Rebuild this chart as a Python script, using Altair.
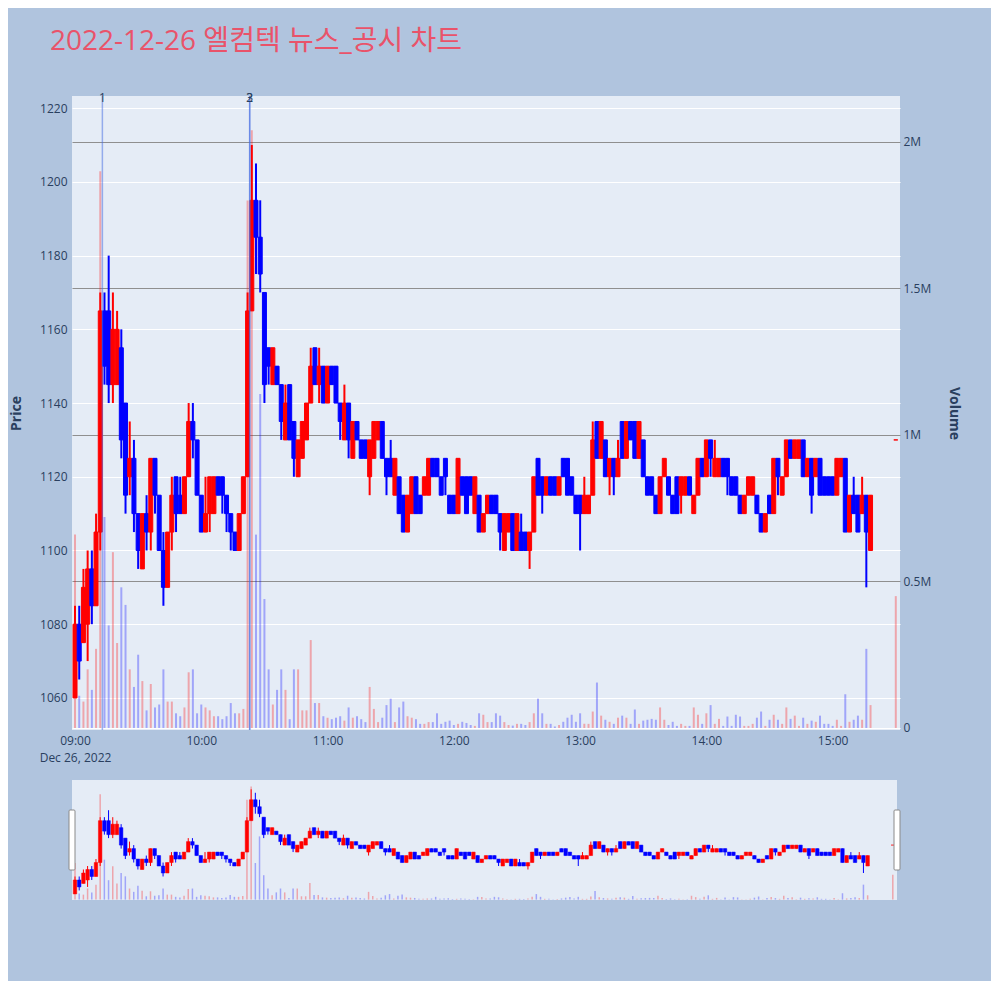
import altair as alt
import pandas as pd

TITLE = "2022-12-26 엘컴텍 뉴스_공시 차트"

# 2-minute candles from 09:00 to 15:18, plus the 15:30 closing auction
opens = [1060,1080,1075,1080,1095,1085,1105,1165,1165,1145,
         1145,1155,1140,1120,1125,1110,1095,1110,1105,1125,
         1115,1100,1090,1105,1120,1115,1110,1120,1135,1130,
         1115,1105,1110,1110,1120,1120,1115,1110,1105,1100,
         1110,1120,1165,1195,1185,1170,1155,1145,1150,1145,
         1130,1145,1135,1120,1125,1130,1140,1155,1145,1150,
         1140,1150,1150,1140,1130,1140,1125,1135,1130,1130,
         1120,1125,1130,1135,1125,1125,1115,1120,1115,1105,
         1110,1120,1115,1115,1115,1125,1125,1120,1125,1115,
         1115,1110,1120,1120,1120,1110,1115,1105,1110,1115,
         1115,1110,1100,1105,1110,1100,1105,1105,1100,1105,
         1125,1120,1115,1120,1120,1115,1125,1125,1120,1115,
         1115,1110,1110,1115,1135,1125,1130,1120,1125,1120,
         1135,1125,1135,1135,1125,1130,1120,1120,1115,1110,
         1120,1120,1115,1120,1115,1115,1120,1110,1115,1125,
         1120,1130,1120,1120,1125,1125,1120,1120,1115,1110,
         1115,1115,1115,1110,1105,1115,1110,1125,1115,1120,
         1130,1125,1125,1130,1120,1125,1120,1125,1120,1120,
         1120,1115,1120,1125,1105,1115,1115,1110,1115,1100,
         1130]
highs = [1085,1085,1095,1100,1100,1110,1170,1170,1180,1170,
         1165,1160,1140,1135,1130,1110,1110,1115,1125,1125,
         1115,1105,1105,1120,1120,1120,1120,1140,1140,1130,
         1115,1120,1120,1120,1120,1120,1115,1110,1105,1110,
         1120,1170,1210,1205,1195,1170,1155,1155,1150,1145,
         1145,1145,1135,1130,1135,1140,1155,1155,1155,1150,
         1150,1150,1150,1140,1145,1140,1135,1135,1130,1130,
         1130,1135,1135,1135,1125,1130,1125,1120,1115,1115,
         1120,1120,1115,1120,1125,1125,1125,1120,1125,1115,
         1115,1125,1120,1120,1120,1120,1115,1110,1115,1115,
         1115,1110,1110,1110,1110,1110,1110,1105,1105,1120,
         1125,1120,1120,1120,1120,1120,1125,1125,1120,1115,
         1115,1120,1115,1135,1135,1135,1130,1125,1125,1130,
         1135,1135,1135,1135,1135,1130,1120,1120,1115,1120,
         1125,1120,1115,1120,1120,1120,1120,1115,1125,1125,
         1130,1130,1130,1125,1125,1125,1120,1120,1115,1115,
         1120,1120,1115,1110,1110,1115,1125,1125,1120,1130,
         1130,1130,1130,1130,1125,1125,1125,1125,1120,1120,
         1120,1125,1125,1125,1115,1120,1115,1120,1115,1115,
         1130]
lows = [1060,1065,1075,1070,1080,1085,1100,1145,1140,1140,
        1145,1125,1110,1115,1105,1095,1095,1100,1100,1110,
        1100,1085,1090,1100,1105,1110,1110,1120,1125,1115,
        1105,1105,1105,1110,1115,1110,1105,1100,1100,1100,
        1110,1120,1165,1175,1170,1140,1145,1145,1145,1130,
        1130,1130,1120,1120,1125,1130,1140,1145,1140,1140,
        1140,1145,1140,1130,1130,1125,1125,1130,1125,1125,
        1115,1125,1130,1125,1115,1120,1115,1110,1105,1105,
        1110,1110,1110,1115,1115,1120,1120,1115,1115,1110,
        1110,1110,1115,1110,1115,1110,1105,1105,1110,1110,
        1110,1100,1100,1105,1100,1100,1100,1100,1095,1105,
        1115,1110,1115,1115,1115,1115,1120,1115,1115,1110,
        1100,1110,1110,1115,1125,1125,1120,1115,1115,1120,
        1125,1125,1130,1125,1125,1120,1115,1115,1110,1110,
        1120,1115,1110,1110,1110,1115,1115,1110,1115,1120,
        1120,1120,1120,1120,1120,1115,1115,1115,1110,1110,
        1115,1115,1110,1105,1105,1110,1110,1115,1115,1120,
        1125,1125,1125,1120,1120,1110,1120,1115,1115,1115,
        1115,1115,1120,1105,1105,1110,1105,1110,1090,1100,
        1130]
closes = [1080,1070,1090,1095,1085,1105,1165,1150,1145,1160,
          1160,1130,1115,1125,1110,1100,1110,1105,1125,1115,
          1100,1090,1105,1115,1110,1110,1120,1135,1130,1115,
          1105,1110,1120,1120,1115,1115,1110,1105,1100,1110,
          1120,1165,1195,1185,1175,1145,1150,1155,1145,1135,
          1140,1130,1125,1130,1135,1140,1150,1145,1150,1140,
          1150,1145,1140,1135,1140,1130,1135,1130,1125,1125,
          1130,1135,1135,1125,1120,1120,1125,1110,1105,1115,
          1120,1110,1110,1120,1125,1120,1120,1115,1120,1110,
          1110,1125,1115,1110,1115,1120,1105,1110,1115,1110,
          1110,1105,1110,1110,1100,1110,1100,1100,1105,1120,
          1115,1115,1120,1115,1115,1120,1120,1115,1115,1110,
          1110,1115,1115,1130,1125,1135,1120,1125,1120,1125,
          1125,1135,1130,1125,1135,1120,1115,1115,1110,1120,
          1125,1115,1110,1110,1120,1120,1115,1115,1125,1120,
          1130,1125,1125,1125,1120,1120,1115,1115,1110,1115,
          1120,1120,1110,1105,1110,1110,1125,1120,1120,1130,
          1125,1130,1130,1120,1125,1115,1125,1115,1115,1115,
          1115,1125,1125,1105,1115,1110,1105,1115,1105,1115,
          1130]
volumes_m = [0.66,0.11,0.09,0.20,0.13,0.27,1.90,0.72,0.35,0.60,
             0.29,0.48,0.42,0.20,0.14,0.25,0.16,0.06,0.15,0.07,
             0.08,0.20,0.09,0.09,0.05,0.04,0.07,0.19,0.20,0.05,
             0.08,0.07,0.06,0.04,0.04,0.03,0.04,0.085,0.05,0.05,
             0.065,1.80,2.04,0.66,1.14,0.44,0.20,0.08,0.13,0.20,
             0.13,0.03,0.20,0.20,0.06,0.06,0.30,0.085,0.085,0.04,
             0.035,0.03,0.035,0.04,0.025,0.07,0.035,0.04,0.03,0.02,
             0.14,0.065,0.02,0.035,0.078,0.10,0.02,0.07,0.09,0.04,
             0.035,0.03,0.014,0.014,0.02,0.02,0.05,0.014,0.021,0.025,
             0.01,0.014,0.021,0.017,0.01,0.007,0.05,0.045,0.02,0.02,
             0.05,0.042,0.02,0.01,0.008,0.014,0.014,0.01,0.02,0.05,
             0.10,0.05,0.014,0.014,0.005,0.01,0.021,0.035,0.045,0.021,
             0.05,0.014,0.014,0.056,0.155,0.042,0.028,0.021,0.014,0.035,
             0.042,0.035,0.014,0.063,0.014,0.025,0.028,0.031,0.028,0.07,
             0.028,0.01,0.021,0.007,0.014,0.007,0.007,0.07,0.045,0.014,
             0.05,0.078,0.014,0.031,0.007,0.039,0.007,0.045,0.039,0.007,
             0.007,0.014,0.035,0.056,0.007,0.028,0.045,0.028,0.014,0.07,
             0.031,0.042,0.007,0.035,0.014,0.025,0.021,0.042,0.014,0.014,
             0.007,0.028,0.007,0.115,0.021,0.028,0.042,0.028,0.27,0.078,
             0.45]

news_times = ["2022-12-26T09:13:00", "2022-12-26T10:23:00", "2022-12-26T10:23:00"]
news_labels = ["1", "2", "3"]
price_ticks = [1060, 1080, 1100, 1120, 1140, 1160, 1180, 1200, 1220]
volume_ticks_m = [0, 0.5, 1, 1.5, 2]
hour_ticks = [9, 10, 11, 12, 13, 14, 15]

times = [t.strftime("%Y-%m-%dT%H:%M:%S")
         for t in pd.date_range("2022-12-26 09:00", periods=190, freq="2min")]
times.append("2022-12-26T15:30:00")

df = pd.DataFrame({"time": times, "open": opens, "high": highs, "low": lows,
                   "close": closes, "volume": volumes_m})
df["dir"] = ["up" if c >= o else "down" for o, c in zip(opens, closes)]
news_df = pd.DataFrame({"time": news_times, "label": news_labels})
handle_df = pd.DataFrame({"time": ["2022-12-26T08:58:34", "2022-12-26T15:32:00"]})

FONT = "Open Sans"
TXT = "#2a3f5f"

x_scale = alt.Scale(domain=[
    alt.DateTime(year=2022, month=12, date=26, hours=8, minutes=58, seconds=34),
    alt.DateTime(year=2022, month=12, date=26, hours=15, minutes=32, seconds=0)],
    padding=0, nice=False)
p_scale = alt.Scale(domain=[1051.3, 1223.3], nice=False, zero=False)
v_scale = alt.Scale(domain=[-0.007, 2.157], nice=False, zero=False)
dir_scale = alt.Scale(domain=["up", "down"], range=["#ff0000", "#0000ff"])
color_enc = alt.Color("dir:N", scale=dir_scale, legend=None)
stroke_enc = alt.Stroke("dir:N", scale=dir_scale, legend=None)

x_axis_main = alt.Axis(
    values=[alt.DateTime(year=2022, month=12, date=26, hours=h) for h in hour_ticks],
    labelExpr="hours(datum.value) == 9 ? [timeFormat(datum.value, '%H:%M'), 'Dec 26, 2022'] : timeFormat(datum.value, '%H:%M')",
    grid=False, ticks=False, domain=False, labelPadding=5, labelLineHeight=17,
    labelFont=FONT, labelFontSize=12, labelColor=TXT)

price_axis = alt.Axis(
    orient="left", values=price_ticks, format="d", title="Price",
    titleFont=FONT, titleFontSize=14, titleFontWeight="bold",
    titleColor=TXT, titlePadding=16,
    labelFont=FONT, labelFontSize=12, labelColor=TXT, labelPadding=5,
    ticks=False, domain=False, grid=True, gridColor="white",
    gridWidth=1, gridOpacity=1)

# invisible left axis on the slider: only reserves the same left extent
slider_axis = alt.Axis(orient="left", labels=False, ticks=False, domain=False,
                       grid=False, title=None, minExtent=64, maxExtent=64)

vol_axis = alt.Axis(
    orient="right", values=volume_ticks_m, format="~g",
    labelExpr="datum.value == 0 ? '0' : datum.label + 'M'",
    title="Volume", titleFont=FONT, titleFontSize=14, titleFontWeight="bold",
    titleColor=TXT, titlePadding=16, labelFont=FONT, labelFontSize=12,
    labelColor=TXT, labelPadding=3, ticks=False, domain=False, grid=True,
    gridColor={"condition": {"test": "datum.value === 0", "value": "white"}, "value": "#8f8f8f"},
    gridWidth=1, gridOpacity=1)

xm = alt.X("time:T", scale=x_scale, axis=x_axis_main, title=None)
xs = alt.X("time:T", scale=x_scale, axis=None, title=None)

# main chart
vol = alt.Chart(df).mark_bar(size=2, opacity=0.3).encode(
    x=xm, y=alt.Y("volume:Q", scale=v_scale, axis=vol_axis), y2=alt.datum(0),
    color=color_enc)
wick = alt.Chart(df).mark_rule(strokeWidth=2).encode(
    x=xm, y=alt.Y("low:Q", scale=p_scale, axis=price_axis), y2="high:Q",
    color=color_enc)
body = alt.Chart(df).mark_bar(size=4, strokeWidth=1).encode(
    x=xm, y=alt.Y("open:Q", scale=p_scale, axis=price_axis), y2="close:Q",
    color=color_enc, stroke=stroke_enc)
news_rule = alt.Chart(news_df).mark_rule(color="royalblue", opacity=0.5, strokeWidth=1.5).encode(x=xm)
news_text = alt.Chart(news_df).mark_text(font=FONT, fontSize=12, color=TXT, baseline="middle").encode(
    x=xm, y=alt.value(2), text="label:N")

main = alt.layer(vol, alt.layer(wick, body, news_rule, news_text)).resolve_scale(
    y="independent").properties(width=828, height=634)

# range slider
s_vol = alt.Chart(df).mark_bar(size=1.5, opacity=0.3).encode(
    x=xs, y=alt.Y("volume:Q", scale=v_scale, axis=None), y2=alt.datum(0),
    color=color_enc)
s_wick = alt.Chart(df).mark_rule(strokeWidth=1).encode(
    x=xs, y=alt.Y("low:Q", scale=p_scale, axis=slider_axis), y2="high:Q",
    color=color_enc)
s_body = alt.Chart(df).mark_bar(size=3.5, strokeWidth=0.5).encode(
    x=xs, y=alt.Y("open:Q", scale=p_scale, axis=slider_axis), y2="close:Q",
    color=color_enc, stroke=stroke_enc)
handles = alt.Chart(handle_df).mark_bar(size=6, fill="white", stroke="#8a8a8a",
                                         strokeWidth=1, cornerRadius=1).encode(
    x=xs, y=alt.value(30), y2=alt.value(90))

slider = alt.layer(s_vol, alt.layer(s_wick, s_body, handles)).resolve_scale(
    y="independent").properties(width=825, height=120)

chart = alt.vconcat(main, slider, spacing=17).properties(
    title=alt.TitleParams(text=TITLE, anchor="start",
                          font="Open Sans, Noto Sans CJK KR", fontSize=28,
                          fontWeight="normal", color="#e9536a", offset=36, dx=42),
    padding={"left": 0, "top": 20, "right": 30, "bottom": 81},
    background="#b0c4de",
).configure_view(fill="#e5ecf6", strokeWidth=0)

chart.save("out.html", embed_options={"renderer": "svg", "actions": False})
